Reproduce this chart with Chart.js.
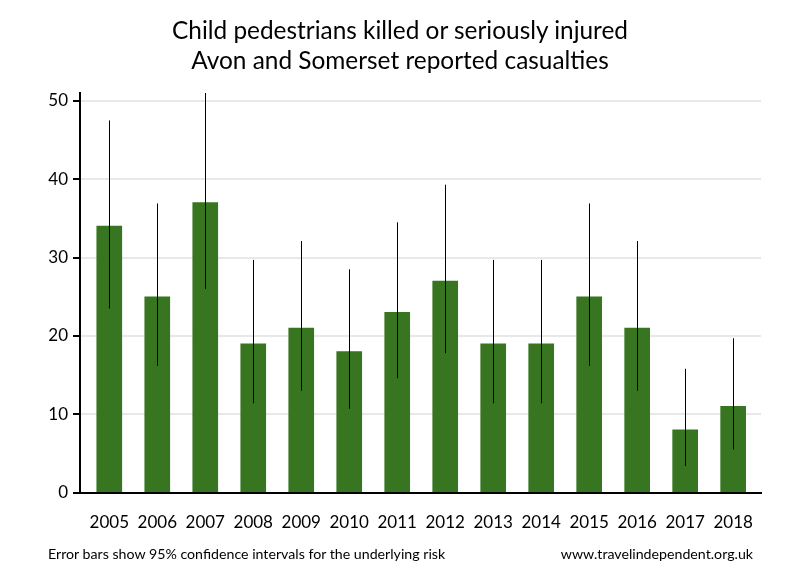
<!DOCTYPE html>
<html>
<head>
<meta charset="utf-8">
<script src="https://cdn.jsdelivr.net/npm/chart.js@4/dist/chart.umd.min.js"></script>
<style>
  html, body { margin: 0; padding: 0; background: #fff; }
  #wrap { position: relative; width: 800px; height: 580px; overflow: hidden; }
  canvas { position: absolute; left: 0; top: 0; }
  .title { position: absolute; left: 0; width: 800px; text-align: center; font-family: Lato, "Open Sans", sans-serif; font-size: 24.4px; color: #000; white-space: nowrap; line-height: 30px; }
  .foot { position: absolute; top: 545px; font-family: Lato, "Open Sans", sans-serif; font-size: 14.2px; color: #000; white-space: nowrap; }
</style>
</head>
<body>
<div id="wrap">
  <canvas id="c" width="800" height="580"></canvas>
  <div class="title" style="top:15px">Child pedestrians killed or seriously injured<br>Avon and Somerset reported casualties</div>
  <div class="foot" style="left:48px">Error bars show 95% confidence intervals for the underlying risk</div>
  <div class="foot" style="right:47px">www.travelindependent.org.uk</div>
</div>
<script>
const years = [2005, 2006, 2007, 2008, 2009, 2010, 2011, 2012, 2013, 2014, 2015, 2016, 2017, 2018];
const casualties = [34, 25, 37, 19, 21, 18, 23, 27, 19, 19, 25, 21, 8, 11];
const lowerCI = [23.5, 16.2, 26.0, 11.4, 13.0, 10.7, 14.6, 17.8, 11.4, 11.4, 16.2, 13.0, 3.4, 5.5];
const upperCI = [47.5, 36.9, 51.0, 29.7, 32.1, 28.5, 34.5, 39.3, 29.7, 29.7, 36.9, 32.1, 15.8, 19.7];
const yTicks = [0, 10, 20, 30, 40, 50];

const FONT = 'Lato, "Open Sans", sans-serif';

const errorBars = {
  id: 'errorBars',
  afterDatasetsDraw(chart) {
    const ctx = chart.ctx;
    const meta = chart.getDatasetMeta(0);
    const ys = chart.scales.y;
    ctx.save();
    ctx.strokeStyle = '#000';
    ctx.lineWidth = 1;
    meta.data.forEach((bar, i) => {
      const x = Math.round(bar.x) + 0.5;
      ctx.beginPath();
      ctx.moveTo(x, ys.getPixelForValue(lowerCI[i]));
      ctx.lineTo(x, ys.getPixelForValue(upperCI[i]));
      ctx.stroke();
    });
    ctx.restore();
  }
};

new Chart(document.getElementById('c'), {
  type: 'bar',
  data: {
    datasets: [{
      data: years.map((yr, i) => ({ x: yr, y: casualties[i] })),
      backgroundColor: '#377520',
      borderWidth: 0,
      barThickness: 25
    }]
  },
  options: {
    responsive: false,
    animation: false,
    devicePixelRatio: 1,
    layout: { padding: { top: 93, right: 39, bottom: 27, left: 0 } },
    plugins: { legend: { display: false }, title: { display: false }, tooltip: { enabled: false } },
    scales: {
      x: {
        type: 'linear',
        offset: false,
        min: 2004.39,
        max: 2018.58,
        grid: { display: false, drawTicks: false },
        border: { display: true, color: '#000', width: 2 },
        ticks: {
          stepSize: 1,
          includeBounds: false,
          autoSkip: false,
          maxRotation: 0,
          padding: 20,
          color: '#000',
          font: { family: FONT, size: 17 },
          callback: (v) => (years.includes(v) ? String(v) : '')
        }
      },
      y: {
        min: 0,
        max: 51,
        afterFit: (s) => { s.width = 80; },
        afterBuildTicks: (s) => { s.ticks = yTicks.map(v => ({ value: v })); },
        grid: { color: '#e8e8e8', lineWidth: 2, tickLength: 7, tickColor: '#000', tickWidth: 2 },
        border: { display: true, color: '#000', width: 2 },
        ticks: {
          padding: 5,
          color: '#000',
          font: { family: FONT, size: 17 }
        }
      }
    }
  },
  plugins: [errorBars]
});
</script>
</body>
</html>
